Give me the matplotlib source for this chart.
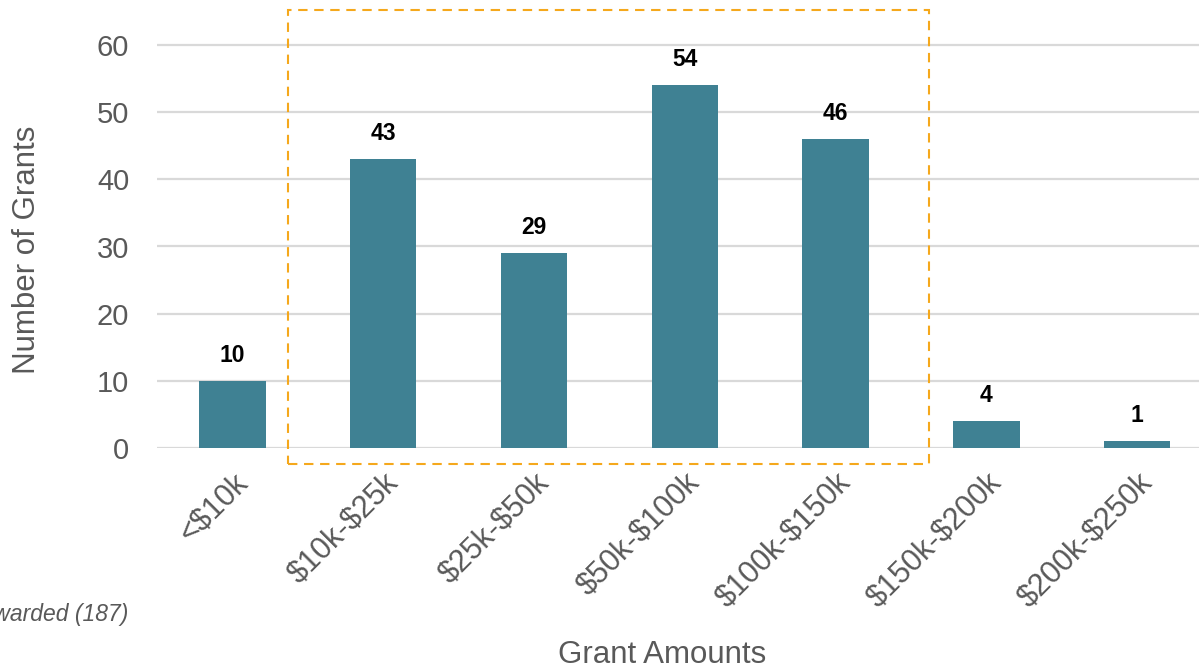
import matplotlib
matplotlib.use("Agg")
import matplotlib.pyplot as plt
from matplotlib.patches import Rectangle

categories = ["<$10k", "$10k-$25k", "$25k-$50k", "$50k-$100k",
              "$100k-$150k", "$150k-$200k", "$200k-$250k"]
counts = [10, 43, 29, 54, 46, 4, 1]
yticks = [0, 10, 20, 30, 40, 50, 60]
highlight_start, highlight_end = 1, 4

plt.rcParams['font.family'] = ['Liberation Sans', 'DejaVu Sans']
plt.rcParams['text.parse_math'] = False
GRAY = '#595959'
BAR = '#3F8193'

fig = plt.figure(figsize=(11.99, 6.70), dpi=100)
ax = fig.add_axes([157/1199, 1-448/670, 1-157/1199, (448-4.7)/670])

x = list(range(len(categories)))
ax.bar(x, counts, width=0.44, color=BAR, zorder=3)
for xi, v in zip(x, counts):
    ax.annotate(str(v), (xi, v), xytext=(0, 10), textcoords='offset points',
                ha='center', va='bottom', fontsize=16.5, fontweight='bold', color='black')

ax.set_xlim(-0.5, 6.41)
ax.set_ylim(0, 66)
ax.set_yticks(yticks)
ax.set_xticks(x)
ax.set_xticklabels(categories, rotation=45, ha='right', rotation_mode='anchor',
                   fontsize=22, color=GRAY)
ax.tick_params(axis='x', length=0, pad=14)
ax.tick_params(axis='y', length=0, pad=20, labelsize=21, labelcolor=GRAY)
ax.grid(axis='y', color='#D9D9D9', linewidth=1.6, zorder=0)
ax.set_axisbelow(True)
for s in ax.spines.values():
    s.set_visible(False)

fig.text(27/1199, 1-250/670, "Number of Grants", rotation=90, ha='center', va='center',
         fontsize=22.5, color=GRAY)
fig.text(662/1199, 1-655/670, "Grant Amounts", ha='center', va='center',
         fontsize=22.5, color=GRAY)
fig.text(128/1199, 1-615/670, "Total Grants Awarded (187)", ha='right', va='center',
         fontsize=16.5, color=GRAY, style='italic')

rect = Rectangle((highlight_start - 0.63, -2.38), (highlight_end + 0.62) - (highlight_start - 0.63),
                 65.2 + 2.38, fill=False, edgecolor='#F5A81C', linewidth=1.5,
                 linestyle=(0, (4.5, 3.2)), clip_on=False, zorder=4)
ax.add_patch(rect)

fig.savefig("out.png", dpi=100)
